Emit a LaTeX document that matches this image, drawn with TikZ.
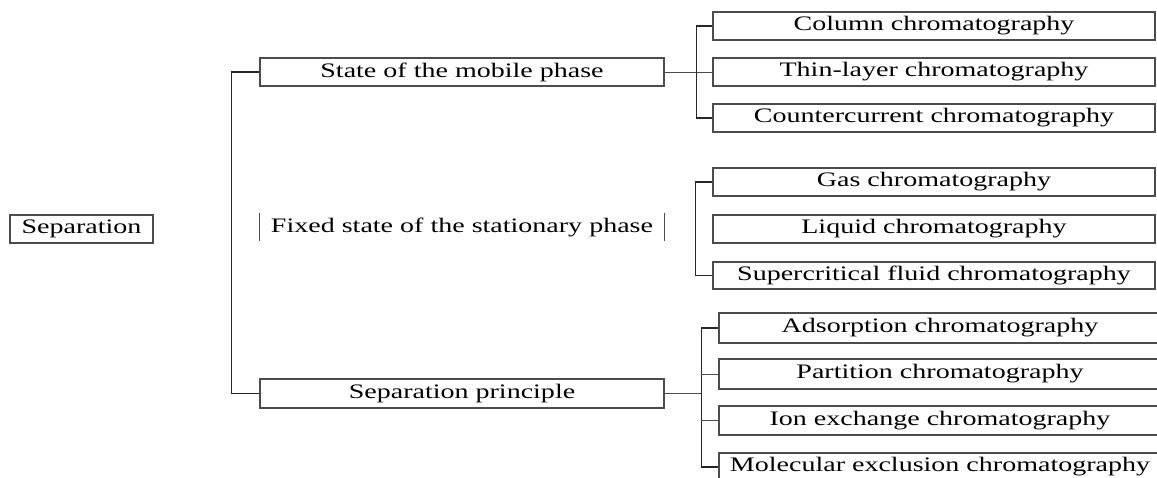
\documentclass[tikz,border=0pt]{standalone}
\usepackage{fontspec}
\setmainfont{Liberation Serif}[FakeStretch=1.36]
\usepackage{tikz}

\tikzset{
    box/.style={draw=black!70, line width=0.55pt, inner sep=0pt, minimum height=14pt},
    link/.style={draw=black!70, line width=0.5pt},
    trunk/.style={draw=black!85, line width=0.9pt}
}

\begin{document}
\begin{tikzpicture}[x=0.5pt, y=-0.5pt, font=\fontsize{10.3}{12}\selectfont]
    \useasboundingbox (0,0) rectangle (1157,477);

    % Root
    \node[box, minimum width=71.5pt] (sep) at (81.5,229) {Separation};

    % Classification criteria
    \node[box, minimum width=202pt] (mobile) at (462,72) {State of the mobile phase};
    \node[minimum width=202pt, minimum height=13.5pt, inner sep=0pt] (fixed) at (462,227) {Fixed state of the stationary phase};
    \node[box, minimum width=202pt, minimum height=14.5pt] (principle) at (462,393.5) {Separation principle};
    \draw[link] (fixed.north west) -- (fixed.south west);
    \draw[link] (fixed.north east) -- (fixed.south east);

    % Mobile phase group
    \node[box, minimum width=221pt] (column) at (934,26) {Column chromatography};
    \node[box, minimum width=221pt] (thin) at (934,72) {Thin-layer chromatography};
    \node[box, minimum width=221pt] (counter) at (934,118) {Countercurrent chromatography};

    % Stationary phase group
    \node[box, minimum width=221pt] (gas) at (934,182) {Gas chromatography};
    \node[box, minimum width=221pt] (liquid) at (934,229) {Liquid chromatography};
    \node[box, minimum width=221pt, minimum height=13.5pt] (supercrit) at (934,275.5) {Supercritical fluid chromatography};

    % Principle group
    \node[box, minimum width=221pt, minimum height=15pt] (adsorp) at (940,328) {Adsorption chromatography};
    \node[box, minimum width=221pt, minimum height=15pt] (partition) at (940,374) {Partition chromatography};
    \node[box, minimum width=221pt, minimum height=14.5pt] (ionex) at (940,420.5) {Ion exchange chromatography};
    \node[box, minimum width=221pt] (molex) at (940,467) {Molecular exclusion chromatography};

    % Brackets
    \draw[trunk] (mobile.west) -- ++(-28,0) |- (principle.west);
    \draw[link] (mobile.east) -- (thin.west);
    \draw[trunk] (column.west) -- ++(-16,0) |- (counter.west);
    \draw[trunk] (gas.west) -- ++(-17,0) |- (supercrit.west);
    \coordinate (bjoin) at (702,393.5);
    \draw[link] (principle.east) -- (bjoin);
    \draw[trunk] (adsorp.west) -- ++(-17,0) |- (molex.west);
    \draw[link] (partition.west) -- ++(-17,0);
    \draw[link] (ionex.west) -- ++(-17,0);
\end{tikzpicture}
\end{document}
